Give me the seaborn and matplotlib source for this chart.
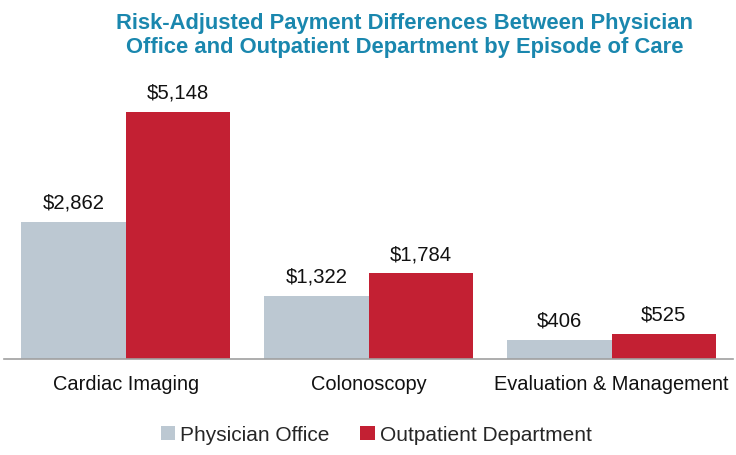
import matplotlib.pyplot as plt
import pandas as pd
import seaborn as sns
from matplotlib.patches import Patch

# datos
episodes = ["Cardiac Imaging", "Colonoscopy", "Evaluation & Management"]
settings = ["Physician Office", "Outpatient Department"]
physician_office = [2862, 1322, 406]
outpatient_dept = [5148, 1784, 525]

colors = {"Physician Office": "#BCC8D2", "Outpatient Department": "#C32033"}

df = pd.DataFrame({
    "episode": episodes * 2,
    "setting": [settings[0]] * 3 + [settings[1]] * 3,
    "payment": physician_office + outpatient_dept,
})

sns.set_style("white")
plt.rcParams["font.family"] = ["Liberation Sans", "DejaVu Sans"]

fig = plt.figure(figsize=(7.36, 4.56), dpi=100)
ax = fig.add_axes([0.006, 0.2105, 0.990, 0.614])

sns.barplot(data=df, x="episode", y="payment", hue="setting",
            order=episodes, hue_order=settings, palette=colors,
            width=0.86, gap=0, saturation=1, linewidth=0, ax=ax, legend=False)

for cont in ax.containers:
    ax.bar_label(cont, labels=[f"${v:,.0f}" for v in cont.datavalues],
                 padding=7.5, fontsize=14.6, color="#111111")

ax.set_xlim(-0.5, 2.5)
ax.set_ylim(0, 5840)
ax.set_xlabel("")
ax.set_ylabel("")
ax.set_yticks([])
for side in ["top", "right", "left"]:
    ax.spines[side].set_visible(False)
ax.spines["bottom"].set_color("#A0A0A0")
ax.spines["bottom"].set_linewidth(1.2)
ax.tick_params(axis="x", length=0, pad=11, labelsize=14.4, labelcolor="#111111")

fig.text(0.55, 0.923, "Risk-Adjusted Payment Differences Between Physician\n"
         "Office and Outpatient Department by Episode of Care",
         ha="center", va="center", fontsize=15.8, fontweight="bold",
         color="#1A87AE", linespacing=1.2)

handles = [Patch(facecolor=colors[s], edgecolor="none", label=s) for s in settings]
fig.legend(handles=handles, loc="center", bbox_to_anchor=(0.511, 0.044), ncol=2,
           frameon=False, fontsize=15, handlelength=0.7, handleheight=0.7,
           handletextpad=0.25, columnspacing=1.45)

fig.savefig("out.png", dpi=100)
